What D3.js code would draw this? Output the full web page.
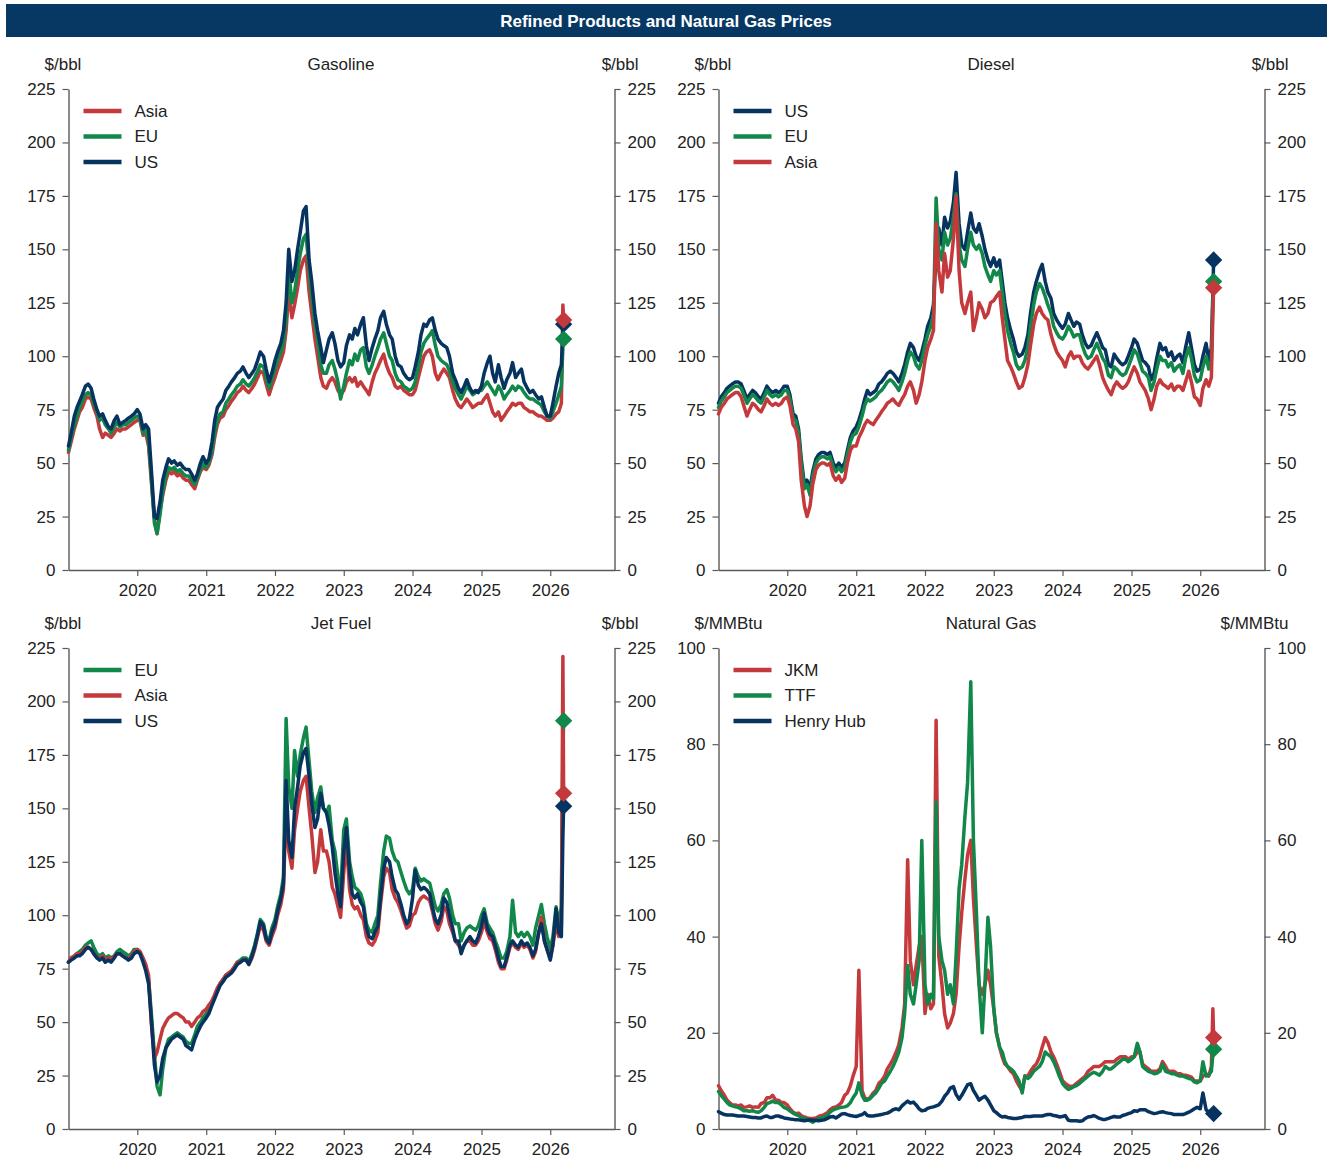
<!DOCTYPE html>
<html>
<head>
<meta charset="utf-8">
<script src="https://cdn.jsdelivr.net/npm/d3@7"></script>
<style>
  html, body { margin: 0; padding: 0; background: #ffffff; }
  svg { display: block; font-family: "Liberation Sans", Arial, Helvetica, sans-serif; }
</style>
</head>
<body>
<svg id="chart" width="1327" height="1162"></svg>
<script>
// ---------------- DATA (semi-monthly: 1st & 15th, Jan 2019 .. Feb 2026, then Mar 1, Mar 9, Mar 13 2026) ----------------
const chartTitle = "Refined Products and Natural Gas Prices";
const yearTicks = [2020, 2021, 2022, 2023, 2024, 2025, 2026];
const bblTicks = [0, 25, 50, 75, 100, 125, 150, 175, 200, 225];
const gasTicks = [0, 20, 40, 60, 80, 100];
const panelTitles = ["Gasoline", "Diesel", "Jet Fuel", "Natural Gas"];
const panelUnits = ["$/bbl", "$/bbl", "$/bbl", "$/MMBtu"];

const gasolineUS = [
  58,64,72,76,79,82,86,87,85,80,75,72,73,70,67,66,70,72,68,69,70,71,72,73,
  75,73,66,68,66,48,25,24,32,42,48,52,50,51,49,50,48,47,47,45,42,45,50,53,
  50,52,60,70,76,78,80,84,86,88,90,92,93,95,92,90,92,94,98,102,100,94,88,92,
  98,102,106,112,125,150,135,140,150,158,168,170,145,135,120,112,104,97,103,108,111,106,98,95,
  97,105,110,108,113,110,115,118,105,98,104,108,112,118,121,115,110,108,100,96,95,92,90,89,
  90,95,102,110,115,114,117,118,112,108,106,105,104,100,92,89,85,83,86,89,85,83,84,83,
  86,92,97,100,92,88,96,90,85,89,92,97,90,92,94,88,85,83,84,82,80,81,76,72,
  72,78,86,92,96,112,115];
const gasolineEU = [
  56,62,68,72,76,79,82,83,82,78,74,70,71,68,66,64,67,69,67,68,68,69,70,71,
  72,71,64,66,60,44,22,17,26,36,44,48,47,48,46,47,45,44,44,42,40,43,47,50,
  48,50,56,64,70,73,74,78,80,82,84,86,87,89,87,86,88,90,93,96,95,90,85,89,
  94,98,102,106,118,140,125,130,140,148,155,157,140,128,115,108,96,92,92,96,98,94,88,80,
  86,92,98,96,101,98,103,104,95,92,96,100,104,108,111,106,100,98,92,89,88,86,85,84,
  85,88,95,102,106,108,110,112,105,100,98,97,96,93,88,85,82,80,83,86,84,82,83,84,
  84,86,88,86,84,82,86,84,80,82,84,86,84,86,85,83,81,80,80,79,78,77,74,72,
  71,74,78,82,86,104,108];
const gasolineAsia = [
  55,60,66,70,74,76,80,81,80,76,72,66,62,64,63,62,64,66,65,66,66,67,68,69,
  70,70,63,64,58,42,24,17,28,35,42,46,45,46,44,45,43,42,42,40,38,42,46,48,
  47,49,54,62,68,71,72,75,77,79,81,83,84,86,84,83,85,87,90,93,92,87,82,86,
  90,94,98,102,112,130,118,124,132,140,145,147,130,120,108,100,90,86,85,88,90,88,84,82,
  84,88,90,88,90,86,88,86,84,82,88,92,95,98,101,96,92,90,86,85,86,84,83,82,
  82,84,90,95,100,102,103,100,92,89,92,94,92,90,84,80,77,76,78,80,78,76,77,78,
  78,80,82,78,74,72,74,70,72,74,76,78,77,78,78,76,75,74,74,73,72,72,71,70,
  70,71,73,74,78,124,117];

const dieselUS = [
  78,81,83,85,86,87,88,88,87,84,80,82,84,83,81,80,83,86,84,83,84,83,84,86,
  86,82,73,72,66,52,40,42,38,46,52,54,55,55,54,55,50,48,50,48,50,56,62,65,
  67,70,75,80,84,82,83,84,87,88,90,92,93,92,90,88,92,96,102,106,104,100,98,102,
  108,114,118,124,150,160,152,165,160,163,172,186,162,152,150,158,167,160,158,162,156,150,145,142,
  146,142,145,135,125,118,112,108,102,100,101,104,110,120,130,135,140,143,135,130,127,120,117,115,
  113,115,120,117,114,116,115,110,106,104,105,108,111,108,104,103,96,95,101,99,97,96,97,100,
  104,108,106,102,98,97,95,89,92,99,106,103,104,100,102,98,100,101,97,104,111,104,96,93,
  94,100,106,98,104,130,145];
const dieselEU = [
  76,79,81,83,84,85,86,86,85,82,78,80,82,81,79,78,81,84,82,81,82,81,82,84,
  84,80,71,70,64,50,38,40,35,44,50,52,53,53,52,53,48,46,48,46,48,54,60,63,
  64,67,72,77,80,79,80,81,83,84,86,88,89,88,86,84,88,92,98,102,100,96,94,98,
  105,110,114,120,174,150,145,158,152,155,165,176,152,145,142,150,158,152,150,152,148,142,138,135,
  140,138,140,130,120,112,106,102,96,94,95,98,104,114,124,130,134,132,128,124,120,114,111,109,
  108,110,114,112,109,110,110,105,101,99,100,103,106,103,99,97,91,90,95,94,92,91,92,95,
  99,103,101,97,93,92,90,84,88,94,100,98,98,95,97,93,95,96,92,99,104,99,91,88,
  89,95,100,94,98,126,135];
const dieselAsia = [
  73,76,78,80,81,82,83,83,81,77,72,75,78,77,75,74,77,80,78,77,78,77,78,80,
  81,77,68,66,60,42,30,25,30,40,47,49,50,50,49,50,44,42,44,41,43,50,56,58,
  58,62,65,68,70,69,68,70,72,74,76,78,79,80,78,77,80,82,86,88,84,78,82,88,
  98,104,108,112,162,140,130,148,137,140,155,175,140,125,120,125,130,112,118,125,122,118,120,125,
  126,128,130,118,108,98,95,92,88,85,86,90,96,105,115,120,123,120,118,117,110,106,102,100,
  98,95,100,102,99,100,100,97,95,94,96,98,100,96,90,87,84,82,86,88,86,85,86,88,
  92,95,92,88,86,84,80,75,80,86,89,87,86,85,87,84,86,86,84,88,93,88,81,80,
  77,85,89,86,90,120,132];

const jetEU = [
  78,80,81,82,83,84,86,87,88,85,82,81,82,80,81,80,81,83,84,83,82,81,82,84,
  84,83,79,76,70,55,35,20,16,28,38,42,43,44,45,44,43,41,40,40,44,48,50,52,
  54,56,60,62,65,68,70,72,73,74,76,78,79,80,80,78,82,86,92,98,96,90,88,94,
  98,104,110,118,192,160,150,177,165,175,183,188,172,158,148,155,160,150,148,151,135,130,118,110,
  140,145,125,118,113,112,110,106,96,93,92,96,100,115,130,137,136,130,126,125,120,116,112,110,
  112,122,118,116,117,116,115,110,104,102,105,110,112,108,100,96,96,88,92,94,95,94,93,95,
  100,103,96,94,92,88,84,80,80,83,90,107,92,90,92,90,92,90,86,94,100,105,96,90,
  84,90,104,96,104,176,191];
const jetAsia = [
  78,80,81,82,82,83,85,85,84,82,80,80,81,79,80,79,81,82,82,81,80,80,81,83,
  84,83,80,77,72,50,33,36,42,47,50,52,53,54,54,53,52,50,50,48,50,52,53,55,
  56,58,60,63,66,68,70,72,73,74,76,78,78,79,79,77,80,84,90,95,93,88,86,90,
  94,100,105,112,150,130,122,140,150,158,163,165,150,138,120,125,140,130,130,125,113,110,104,99,
  120,135,112,105,103,104,100,98,90,87,86,88,92,105,118,122,120,112,108,106,102,98,94,95,
  100,101,106,108,109,108,107,102,96,93,97,104,102,96,92,88,86,84,86,88,88,86,86,88,
  92,97,92,89,88,84,78,75,75,79,85,87,85,84,87,85,86,84,80,83,92,99,88,84,
  80,86,96,90,95,221,157];
const jetUS = [
  78,79,80,81,81,82,84,85,84,82,80,79,80,78,79,78,80,82,82,81,80,79,80,82,
  83,82,78,74,68,52,30,22,25,33,38,40,42,43,44,43,42,39,38,37,42,45,48,50,
  52,54,58,61,64,67,69,71,72,73,75,77,78,79,79,77,81,85,91,97,95,89,87,92,
  96,102,108,115,163,135,127,150,160,170,176,178,165,152,141,145,157,150,148,142,132,120,110,104,
  130,141,120,110,108,110,106,104,94,90,89,92,95,108,122,127,125,118,112,110,105,100,96,98,
  108,121,114,112,113,112,110,104,98,96,100,108,106,100,94,88,88,82,86,88,90,88,87,90,
  95,101,94,91,90,86,80,76,76,80,86,88,86,85,88,86,87,85,81,84,92,96,88,84,
  79,86,103,92,90,137,151];

const gasJKM = [
  9,8,7,6,5.5,5,5,4.8,5,4.5,4.6,4.8,4.5,4.6,4.5,5.3,5.5,6.5,6.5,7,6,6,5.5,5.5,
  5,4.2,3.5,3.2,3.3,2.8,2.5,2.3,2.2,2.2,2.3,2.6,2.8,3,3.4,4,4.5,4.6,5,5.5,7,7.5,9,11,
  13,33,8,6.5,6.2,6.5,7.5,8,9.5,10,11,12.5,13.5,14.5,16,17.5,21,26,56,35,30,34,38,40,
  24,28,25,26,85,36,30,24,21,22,24,28,38,45,52,57,60,48,38,30,28,30,33,30,
  25,20,17,15,13.5,13,12,11.5,10,9,8,11,11,12,13,13.5,15,17,19,18,16,15,13.5,12,
  10,9.5,9,8.8,9,9.5,10,10.5,11,12,12.5,13,13,13,13.5,14,14,14,14,14.5,15,15,15,14.5,
  15,15,16,16,13.5,13,12.5,12,12,12,12.5,14,13,12,12,12,11.5,11.5,11.2,11.2,11,10.8,10,10,
  10,11,11.5,11,13,25,19];
const gasTTF = [
  7.8,7,6.2,5.5,5,4.8,4.6,4.5,4.2,3.8,3.8,3.7,3.8,3.6,3.5,3.8,4.5,5.3,5.5,5.8,5.5,5.5,5,4.5,
  4.2,3.8,3.3,3,2.8,2.4,2.2,2.1,1.7,1.4,1.8,2.2,2.4,2.5,2.8,3.5,4,4.2,4.4,4.5,4.6,4.8,5.5,6.5,
  7.5,9.6,7,6,6,6.3,7,7.5,8.5,9.5,10,11,12,13,14.5,16,19,24,34,28,26,30,35,60,
  30,26,28,27,68,40,35,33,28,30,26,36,50,55,65,72,93,60,45,30,20,30,44,38,
  25,20,17,16,14,13,12.5,12,11,10,7.5,11,10.5,11,12,12.5,13,14,16,15.5,15,14,12.5,11,
  9.5,8.8,8.2,8.5,8.8,9,9.5,10,10.5,11,11.5,11.8,11.5,11.2,12,13,12.5,12.5,13,13.5,14,14.5,14.5,14,
  14.5,15,17.8,16,13,12.5,12,11.8,11.5,11.6,12,13.5,12,11.8,11.5,11.5,11.2,11,11,10.8,10.5,10.4,9.8,9.6,
  10,14,11,11.2,12,15.5,16.6];
const gasHH = [
  3.6,3.3,3,2.9,2.9,2.9,2.8,2.7,2.7,2.7,2.6,2.5,2.4,2.4,2.3,2.3,2.6,2.7,2.4,2.4,2.7,2.7,2.5,2.3,
  2.2,2.1,2,1.9,1.9,1.8,1.7,1.8,1.9,1.8,1.8,1.7,1.8,1.9,2.2,2.5,2.6,2.3,2.7,3.1,3.2,3,2.8,2.7,
  2.6,2.8,3,3.4,2.8,2.7,2.7,2.8,2.9,3,3.2,3.3,3.6,4,4.2,4,4.8,5.3,5.8,5.4,5.6,5,4.2,3.8,
  3.9,4.3,4.5,4.6,4.8,5,5.8,6.8,7.5,8.5,8.8,7.2,6.2,7,8.2,9.2,9.4,8,7,6,6.5,6.8,6,5,
  3.8,3.4,2.8,2.5,2.6,2.4,2.3,2.2,2.2,2.3,2.4,2.6,2.6,2.6,2.7,2.7,2.7,2.7,2.9,3,3,2.8,2.7,2.5,
  2.6,2.8,1.8,1.7,1.7,1.7,1.6,1.7,2.2,2.5,2.6,2.8,2.5,2.2,2,2,2.2,2.4,2.6,2.5,2.5,2.8,3,3.2,
  3.4,3.8,3.7,4,4,4,3.6,3.4,3.2,3.3,3.5,3.6,3.4,3.3,3.2,3,3,3,3,3.2,3.5,3.8,4.2,4.5,
  4.2,7.5,4,3.5,3.2,2.8,3.2];

// observation dates
const dates = [];
for (let y = 2019; y <= 2025; y++) for (let m = 0; m < 12; m++) { dates.push(new Date(y, m, 1)); dates.push(new Date(y, m, 15)); }
[[0,1],[0,15],[1,1],[1,15],[2,1],[2,9],[2,13]].forEach(([m, d]) => dates.push(new Date(2026, m, d)));

// ---------------- STYLE ----------------
const C = { red: "#c4393b", green: "#12874a", navy: "#06335f", header: "#073763", axis: "#5a5a5a", text: "#222222" };
const FONT = 17;

const panels = [
  { title: panelTitles[0], unit: panelUnits[0], max: 225, ticks: bblTicks,
    legend: [["Asia", gasolineAsia, C.red], ["EU", gasolineEU, C.green], ["US", gasolineUS, C.navy]],
    box: { l: 68.5, r: 614.5, t: 89, b: 570 } },
  { title: panelTitles[1], unit: panelUnits[1], max: 225, ticks: bblTicks,
    legend: [["US", dieselUS, C.navy], ["EU", dieselEU, C.green], ["Asia", dieselAsia, C.red]],
    box: { l: 718.5, r: 1264.5, t: 89, b: 570 } },
  { title: panelTitles[2], unit: panelUnits[2], max: 225, ticks: bblTicks,
    legend: [["EU", jetEU, C.green], ["Asia", jetAsia, C.red], ["US", jetUS, C.navy]],
    box: { l: 68.5, r: 614.5, t: 648, b: 1129 } },
  { title: panelTitles[3], unit: panelUnits[3], max: 100, ticks: gasTicks,
    legend: [["JKM", gasJKM, C.red], ["TTF", gasTTF, C.green], ["Henry Hub", gasHH, C.navy]],
    box: { l: 718.5, r: 1264.5, t: 648, b: 1129 } }
];

const svg = d3.select("#chart");

// header
svg.append("rect").attr("x", 6).attr("y", 4).attr("width", 1321).attr("height", 33).attr("fill", C.header);
svg.append("text").attr("x", 666).attr("y", 21).attr("text-anchor", "middle").attr("dominant-baseline", "central")
  .attr("fill", "#ffffff").attr("font-weight", "bold").attr("font-size", 17).text(chartTitle);

const diamond = d3.symbol().type(d3.symbolSquare).size(150);

panels.forEach(p => {
  const b = p.box;
  const g = svg.append("g");
  const x = d3.scaleTime().domain([new Date(2019, 0, 1), new Date(2026, 11, 8)]).range([b.l, b.r]);
  const y = d3.scaleLinear().domain([0, p.max]).range([b.b, b.t]);

  // axes
  const styleAxis = sel => {
    sel.selectAll("path.domain").attr("stroke", C.axis).attr("stroke-width", 1.4);
    sel.selectAll(".tick line").attr("stroke", C.axis).attr("stroke-width", 1.2);
    sel.selectAll(".tick text").attr("fill", C.text).attr("font-size", FONT)
      .attr("font-family", '"Liberation Sans", Arial, sans-serif');
  };
  g.append("g").attr("transform", `translate(${b.l},0)`)
    .call(d3.axisLeft(y).tickValues(p.ticks).tickSizeInner(6).tickSizeOuter(0).tickPadding(7))
    .call(styleAxis);
  g.append("g").attr("transform", `translate(${b.r},0)`)
    .call(d3.axisRight(y).tickValues(p.ticks).tickSizeInner(6).tickSizeOuter(0).tickPadding(7))
    .call(styleAxis);
  g.append("g").attr("transform", `translate(0,${b.b})`)
    .call(d3.axisBottom(x).tickValues(yearTicks.map(yr => new Date(yr, 0, 1)))
      .tickFormat(d3.timeFormat("%Y")).tickSizeInner(6).tickSizeOuter(0).tickPadding(8))
    .call(styleAxis);

  // titles / units
  g.append("text").attr("x", (b.l + b.r) / 2 - 0.5).attr("y", b.t - 25).attr("text-anchor", "middle")
    .attr("dominant-baseline", "central").attr("font-size", FONT).attr("fill", C.text).text(p.title);
  g.append("text").attr("x", b.l - 24).attr("y", b.t - 25).attr("text-anchor", "start")
    .attr("dominant-baseline", "central").attr("font-size", FONT).attr("fill", C.text).text(p.unit);
  g.append("text").attr("x", b.r + 24).attr("y", b.t - 25).attr("text-anchor", "end")
    .attr("dominant-baseline", "central").attr("font-size", FONT).attr("fill", C.text).text(p.unit);

  // lines
  const line = d3.line().x((d, i) => x(dates[i])).y(d => y(d)).curve(d3.curveLinear);
  p.legend.forEach(([name, vals, col]) => {
    g.append("path").datum(vals).attr("d", line).attr("fill", "none").attr("stroke", col)
      .attr("stroke-width", 3.5).attr("stroke-linejoin", "round").attr("stroke-linecap", "round");
  });

  // end-point diamonds (red drawn last)
  const order = [C.navy, C.green, C.red];
  order.forEach(col => {
    const s = p.legend.find(l => l[2] === col);
    const n = s[1].length - 1;
    g.append("path").attr("d", diamond())
      .attr("transform", `translate(${x(dates[n])},${y(s[1][n])}) rotate(45)`)
      .attr("fill", col);
  });

  // legend
  p.legend.forEach(([name, vals, col], i) => {
    const ly = b.t + 22 + i * 25.5;
    g.append("line").attr("x1", b.l + 15).attr("x2", b.l + 53).attr("y1", ly).attr("y2", ly)
      .attr("stroke", col).attr("stroke-width", 4.5);
    g.append("text").attr("x", b.l + 66).attr("y", ly).attr("dominant-baseline", "central")
      .attr("font-size", FONT).attr("fill", C.text).text(name);
  });
});
</script>
</body>
</html>
